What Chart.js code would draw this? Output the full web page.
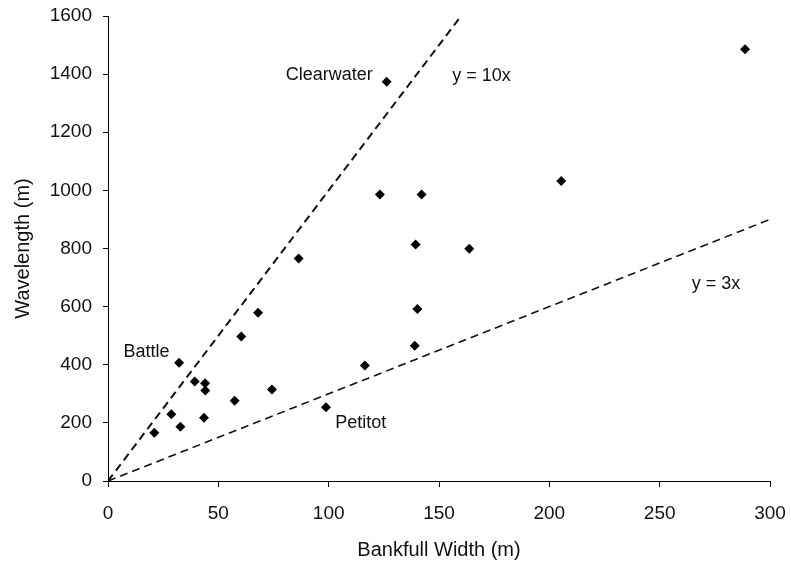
<!DOCTYPE html>
<html>
<head>
<meta charset="utf-8">
<script src="https://cdn.jsdelivr.net/npm/chart.js@4"></script>
<style>
    html, body { margin: 0; padding: 0; background: #fff; }
    #wrap { width: 791px; height: 566px; }
</style>
</head>
<body>
<div id="wrap"><canvas id="chart" width="791" height="566"></canvas></div>
<script>
// measured rivers: bankfull width (m) vs meander wavelength (m)
const widths = [21, 28.7, 32.8, 32.2, 39.3, 44, 44.1, 43.5, 57.4, 60.4, 68, 74.3, 86.4, 98.8, 116.4, 123.2, 126.3, 139, 139.4, 140.2, 142.1, 163.7, 205.4, 288.7];
const wavelengths = [166, 230, 187, 407, 342, 336, 311, 218, 276, 497, 579, 315, 766, 254, 397, 986, 1374, 465, 814, 592, 986, 799, 1032, 1486];

// reference lines
const line10x = [[0, 0], [160, 1600]];
const line3x = [[0, 0], [300, 900]];

// text labels placed at data coordinates
const labelText = ["Clearwater", "y = 10x", "y = 3x", "Battle", "Petitot"];
const labelX = [120, 156, 264.5, 7, 103];
const labelY = [1397, 1393, 678, 444, 200];
const labelAlign = ["right", "left", "left", "left", "left"];

const xTicks = [0, 50, 100, 150, 200, 250, 300];
const yTicks = [0, 200, 400, 600, 800, 1000, 1200, 1400, 1600];

const fontFamily = "'Liberation Sans', Arial, sans-serif";

const textLabels = {
    id: "textLabels",
    afterDatasetsDraw(chart) {
        const ctx = chart.ctx;
        const xs = chart.scales.x, ys = chart.scales.y;
        ctx.save();
        ctx.fillStyle = "#111";
        ctx.font = "18px " + fontFamily;
        ctx.textBaseline = "middle";
        labelText.forEach((t, i) => {
            ctx.textAlign = labelAlign[i];
            ctx.fillText(t, xs.getPixelForValue(labelX[i]), ys.getPixelForValue(labelY[i]));
        });
        ctx.restore();
    }
};

const toPts = arr => arr.map(p => ({ x: p[0], y: p[1] }));

new Chart(document.getElementById("chart"), {
    type: "scatter",
    data: {
        datasets: [
            {
                label: "y = 10x",
                type: "line",
                data: toPts(line10x),
                borderColor: "#111",
                borderWidth: 2,
                borderDash: [8, 5],
                pointRadius: 0,
                fill: false
            },
            {
                label: "y = 3x",
                type: "line",
                data: toPts(line3x),
                borderColor: "#111",
                borderWidth: 1.6,
                borderDash: [8, 5],
                pointRadius: 0,
                fill: false
            },
            {
                label: "Rivers",
                data: widths.map((w, i) => ({ x: w, y: wavelengths[i] })),
                pointStyle: "rectRot",
                pointRadius: 5,
                backgroundColor: "#000",
                borderColor: "#000",
                borderWidth: 0
            }
        ]
    },
    options: {
        responsive: false,
        animation: false,
        layout: { padding: { left: 0, right: 21, top: 16, bottom: 0 } },
        plugins: {
            legend: { display: false },
            tooltip: { enabled: false }
        },
        scales: {
            x: {
                type: "linear",
                min: 0,
                max: 300,
                afterBuildTicks: s => { s.ticks = xTicks.map(v => ({ value: v })); },
                afterFit: s => { s.height = 85; s.paddingLeft = 0; s.paddingRight = 0; },
                grid: { drawOnChartArea: false, drawTicks: true, tickLength: 6, color: "#000" },
                border: { color: "#000", width: 1 },
                ticks: { color: "#111", padding: 15, maxRotation: 0, font: { family: fontFamily, size: 19 }, callback: v => String(v) },
                title: {
                    display: true,
                    text: "Bankfull Width (m)",
                    color: "#111",
                    font: { family: fontFamily, size: 20 },
                    padding: { top: 0, bottom: 4 }
                }
            },
            y: {
                type: "linear",
                min: 0,
                max: 1600,
                afterBuildTicks: s => { s.ticks = yTicks.map(v => ({ value: v })); },
                afterFit: s => { s.width = 108; s.paddingTop = 0; s.paddingBottom = 0; },
                grid: { drawOnChartArea: false, drawTicks: true, tickLength: 5, color: "#000" },
                border: { color: "#000", width: 1 },
                ticks: { color: "#111", padding: 11, font: { family: fontFamily, size: 19 }, callback: v => String(v) },
                title: {
                    display: true,
                    text: "Wavelength (m)",
                    color: "#111",
                    font: { family: fontFamily, size: 20 },
                    padding: { top: 11, bottom: 0 }
                }
            }
        }
    },
    plugins: [textLabels]
});
</script>
</body>
</html>
